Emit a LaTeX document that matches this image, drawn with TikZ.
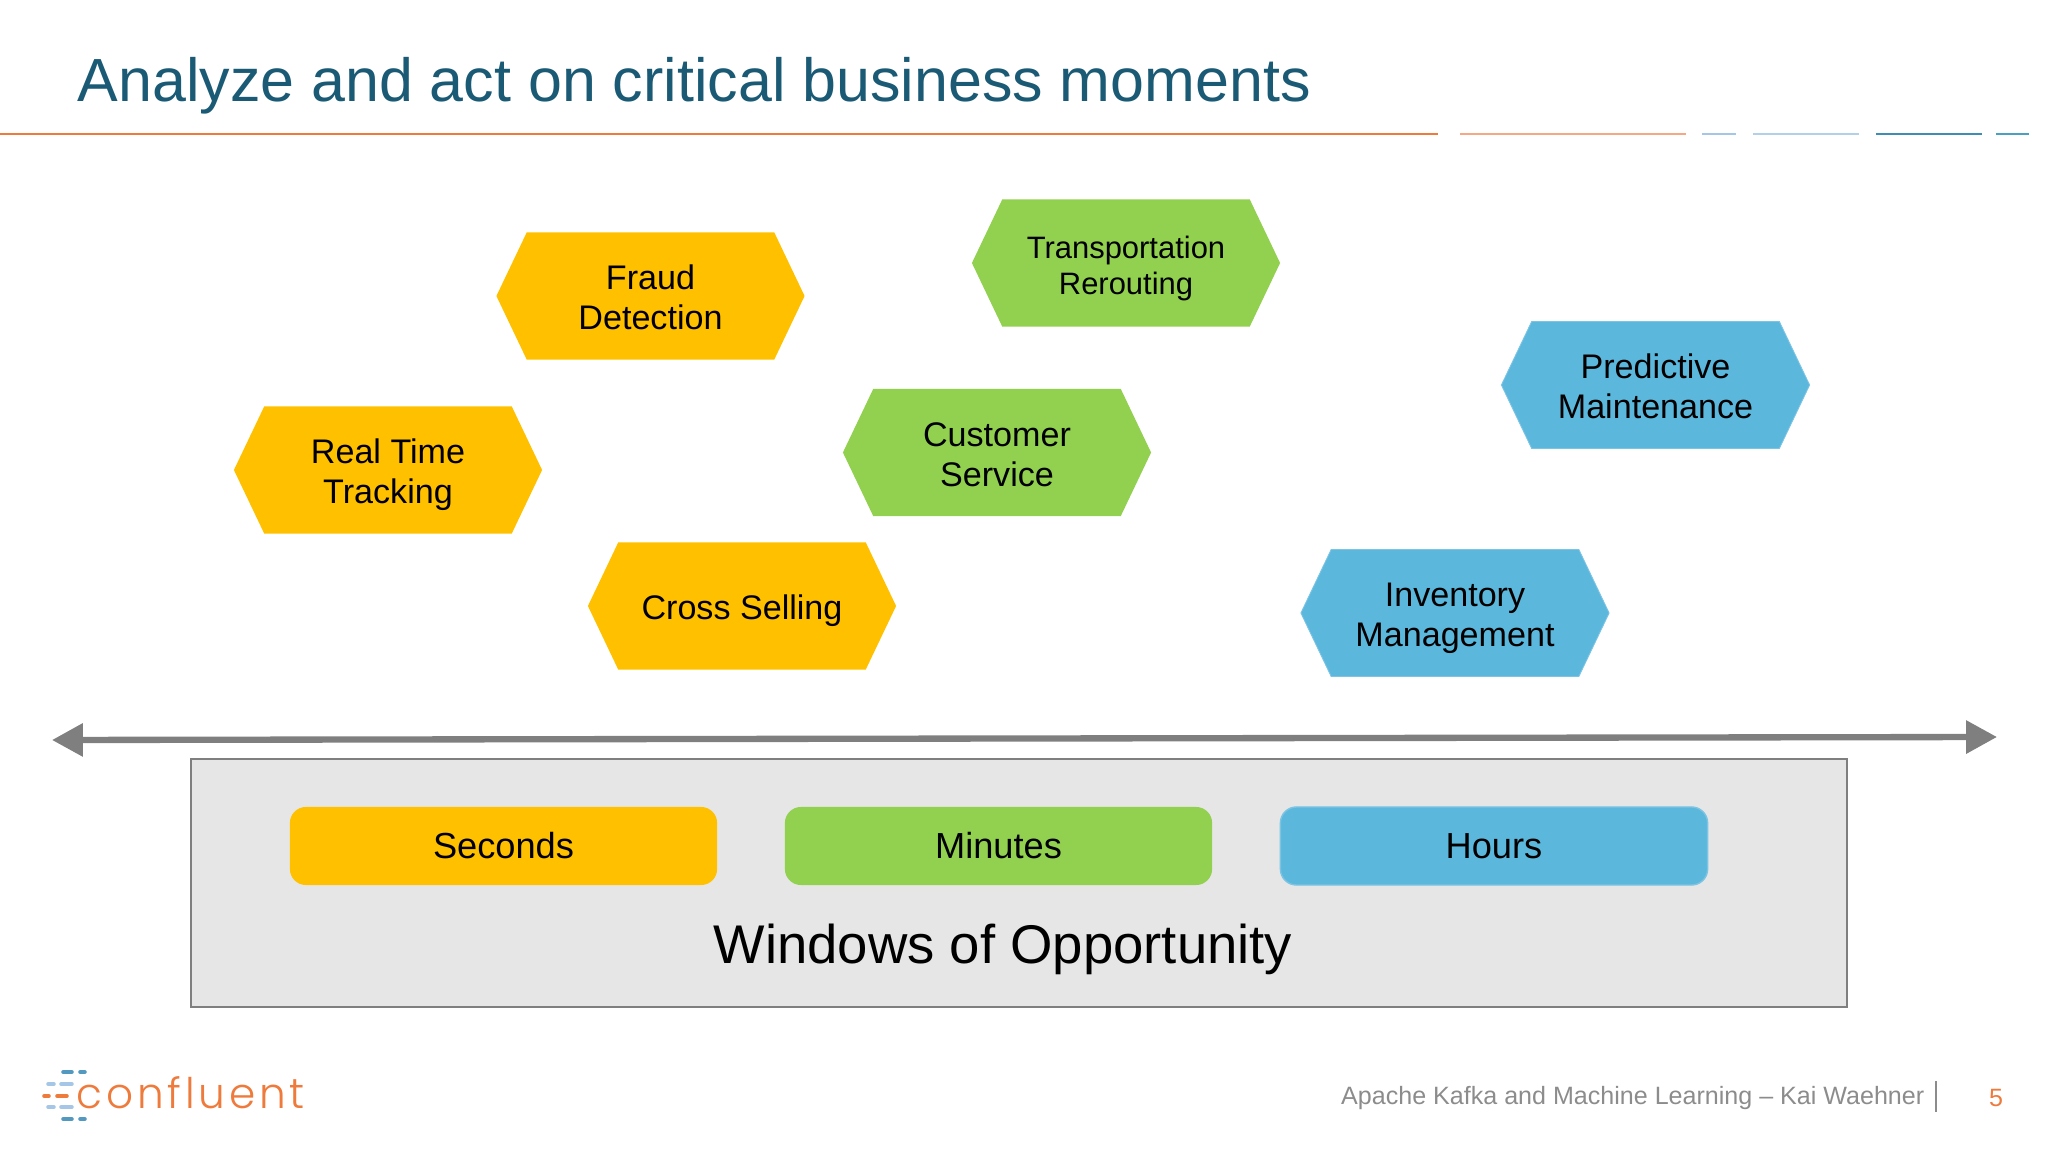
\documentclass[tikz,border=0pt]{standalone}
\usepackage{fontspec}
\usepackage{xcolor}
\usepackage{tikz}
\usetikzlibrary{arrows.meta,shapes.symbols}
\setmainfont{Liberation Sans}
\newfontfamily\logofont[UprightFont=* Light, LetterSpace=9]{Poppins}

\definecolor{titleblue}{HTML}{1A5A75}
\definecolor{ruleorange}{HTML}{EE7A3C}
\definecolor{rulepeach}{HTML}{F5A883}
\definecolor{rulesky}{HTML}{A5C6E6}
\definecolor{rulepale}{HTML}{B4D0E8}
\definecolor{ruleteal}{HTML}{3E8DB5}
\definecolor{rulelake}{HTML}{4AA0C0}
\definecolor{secondsyellow}{HTML}{FFC000}
\definecolor{minutesgreen}{HTML}{92D050}
\definecolor{hoursblue}{HTML}{5BB8DC}
\definecolor{hoursedge}{HTML}{7CC4E4}
\definecolor{panelgray}{HTML}{E6E6E6}
\definecolor{arrowgray}{HTML}{7F7F7F}
\definecolor{footergray}{HTML}{8C8C8C}

\newcommand{\hextext}[1]{\raisebox{-4.1pt}[0pt][0pt]{\begin{tabular}{@{}c@{}}#1\end{tabular}}}

\tikzset{
	hexbox/.style={signal, signal to=west and east, signal pointer angle=129, minimum width=3.08cm, minimum height=1.27cm, inner sep=0pt, text=black, font=\fontsize{9.7}{11.4}\selectfont},
	hexsmall/.style={hexbox, font=\fontsize{8.8}{10}\selectfont},
	hexblue/.style={hexbox, fill=hoursblue, draw=hoursedge, line width=0.25pt},
	windowbox/.style={rectangle, rounded corners=1.6mm, minimum width=4.27cm, minimum height=0.78cm, inner sep=0pt, font=\fontsize{10.3}{12}\selectfont},
	topline/.style={line width=0.75pt},
	logodash/.style={line width=1pt, line cap=round}
}

\begin{document}
\begin{tikzpicture}[x=0.01cm, y=-0.01cm]
	\useasboundingbox (0, 0) rectangle (2048, 1152);

	% heading
	\node[anchor=west, inner sep=0pt, text=titleblue, font=\fontsize{17.33}{20}\selectfont] (title) at (77, 86) {Analyze and act on critical business moments};
	\draw[topline, ruleorange] (0, 134) -- (1438, 134);
	\draw[topline, rulepeach] (1460, 134) -- (1686, 134);
	\draw[topline, rulesky] (1702, 134) -- (1736, 134);
	\draw[topline, rulepale] (1753, 134) -- (1859, 134);
	\draw[topline, ruleteal] (1876, 134) -- (1982, 134);
	\draw[topline, rulelake] (1996, 134) -- (2029, 134);

	% use cases
	\node[hexbox, fill=secondsyellow] (fraud) at (650.5, 296) {\hextext{Fraud\\Detection}};
	\node[hexbox, fill=secondsyellow] (tracking) at (388, 470) {\hextext{Real Time\\Tracking}};
	\node[hexbox, fill=secondsyellow] (selling) at (742, 606) {\hextext{Cross Selling}};
	\node[hexsmall, fill=minutesgreen] (rerouting) at (1126, 263) {\hextext{Transportation\\Rerouting}};
	\node[hexbox, fill=minutesgreen] (service) at (997, 452.5) {\hextext{Customer\\Service}};
	\node[hexblue] (maintenance) at (1655.5, 385) {\hextext{Predictive\\Maintenance}};
	\node[hexblue] (inventory) at (1455, 613) {\hextext{Inventory\\Management}};

	% time axis
	\coordinate (axisleft) at (52, 740);
	\coordinate (axisright) at (1997, 737);
	\draw[line width=1.8pt, arrowgray, {Triangle[length=8.8pt, width=9.1pt]}-{Triangle[length=8.8pt, width=9.1pt]}] (axisleft) -- (axisright);

	% windows
	\draw[line width=0.7pt, arrowgray, fill=panelgray] (191, 759) rectangle (1847, 1007);
	\node[windowbox, fill=secondsyellow] (seconds) at (503.5, 846) {Seconds};
	\node[windowbox, fill=minutesgreen] (minutes) at (998.5, 846) {Minutes};
	\node[windowbox, fill=hoursblue, draw=hoursedge] (hours) at (1494, 846) {Hours};
	\node[inner sep=0pt, font=\fontsize{15.5}{18}\selectfont] (windows) at (1003, 949) {Windows of Opportunity};

	% logo
	\draw[logodash, ruleteal!80!rulesky] (63, 1072) -- (72, 1072) (80, 1072) -- (85, 1072) (63, 1119) -- (72, 1119) (80, 1119) -- (85, 1119);
	\draw[logodash, rulesky] (48, 1084) -- (54, 1084) (61, 1084) -- (72, 1084) (48, 1107) -- (54, 1107) (61, 1107) -- (72, 1107);
	\draw[logodash, ruleorange] (44, 1096) -- (49, 1096) (57, 1096) -- (67, 1096);
	\node[anchor=west, inner sep=0pt, text=ruleorange, font=\logofont\fontsize{12}{14}\selectfont] (logo) at (76, 1093) {confluent};

	% footer
	\node[anchor=east, inner sep=0pt, text=footergray, font=\fontsize{7.13}{8}\selectfont] (footer) at (1925, 1098) {Apache Kafka and Machine Learning – Kai Waehner};
	\draw[line width=0.3pt, footergray] (1936, 1081) -- (1936, 1112);
	\node[inner sep=0pt, text=ruleorange, font=\fontsize{7.13}{8}\selectfont] (page) at (1996, 1098) {5};
\end{tikzpicture}
\end{document}
